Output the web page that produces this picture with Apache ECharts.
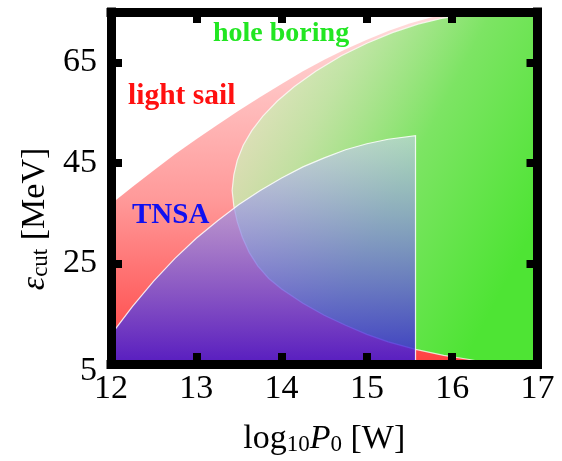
<!DOCTYPE html>
<html><head><meta charset="utf-8">
<script src="https://cdn.jsdelivr.net/npm/echarts@6/dist/echarts.min.js"></script>
<style>html,body{margin:0;padding:0;background:#fff}#c{width:562px;height:461px}</style>
</head><body><div id="c"></div>
<script>
// ---- data ----
const xTicks = [12, 13, 14, 15, 16, 17];
const yTicks = [5, 25, 45, 65];
const xRange = [12, 17];
const yRange = [5, 75];

// light sail: upper boundary (filled down to the axis)
const lightSailX = [12, 12.25, 12.5, 12.75, 13, 13.25, 13.5, 13.75, 14, 14.25, 14.5, 14.75, 15, 15.25, 15.5, 15.75, 16, 16.5, 17];
const lightSailY = [36.8, 40.2, 43.5, 46.7, 49.7, 52.6, 55.4, 58.1, 60.7, 63.2, 65.5, 67.6, 69.5, 71.2, 72.7, 73.9, 74.9, 76.8, 78.5];

// TNSA: upper boundary, then vertical cut-off
const tnsaX = [12, 12.25, 12.5, 12.75, 13, 13.25, 13.5, 13.75, 14, 14.25, 14.5, 14.75, 15, 15.25, 15.57];
const tnsaY = [10.8, 16.4, 21.5, 26.0, 30.0, 33.5, 36.7, 39.5, 42.0, 44.2, 46.0, 47.6, 48.8, 49.7, 50.4];
const tnsaCutX = 15.57;

// hole boring: boundary arc from the bottom edge round the left to the top edge
const holeBoringX = [16.5, 16.2, 15.9, 15.57, 15.25, 15.0, 14.75, 14.5, 14.25, 14.0, 13.85, 13.72, 13.62, 13.54, 13.48, 13.44, 13.42,
                     13.44, 13.48, 13.55, 13.65, 13.78, 13.95, 14.15, 14.4, 14.7, 15.0, 15.3, 15.6, 15.9, 16.2, 16.45];
const holeBoringY = [5.0, 5.9, 6.7, 7.9, 9.4, 10.9, 12.7, 14.7, 17.1, 19.9, 22.0, 24.5, 27.2, 30.2, 33.3, 36.4, 39.5,
                     42.6, 45.5, 48.5, 51.4, 54.3, 57.3, 60.2, 63.2, 66.3, 68.8, 70.9, 72.6, 73.8, 74.7, 75.2];

const labelTexts = { hole: 'hole boring', sail: 'light sail', tnsa: 'TNSA' };

// ---- build polygons (data space) ----
const zip = (xs, ys) => xs.map((x, i) => [x, ys[i]]);
const redPoly = [[xRange[0], yRange[0]]].concat(zip(lightSailX, lightSailY), [[xRange[1], yRange[0]]]);
const bluePoly = [[xRange[0], yRange[0]]].concat(zip(tnsaX, tnsaY), [[tnsaCutX, yRange[0]]]);
const greenPoly = zip(holeBoringX, holeBoringY).concat([[xRange[1], yRange[1] + 1], [xRange[1], yRange[0]]]);

const G = echarts.graphic.LinearGradient;
function polySeries(name, pts, style, z) {
  return {
    type: 'custom', name: name, coordinateSystem: 'cartesian2d', clip: true, z: z,
    data: pts, silent: true,
    renderItem: function (params, api) {
      if (params.dataIndex !== 0) return null;
      const points = pts.map(p => api.coord(p));
      return { type: 'polygon', shape: { points: points }, style: style };
    }
  };
}

const serif = '"Liberation Serif", "DejaVu Serif", serif';
const frameLine = { show: true, onZero: false, lineStyle: { color: '#000', width: 9, cap: 'square' } };
const tick = { show: true, inside: true, length: 11, lineStyle: { color: '#000', width: 8 } };

const chart = echarts.init(document.getElementById('c'), null, { renderer: 'canvas' });
chart.setOption({
  animation: false,
  backgroundColor: '#fff',
  grid: { left: 111, right: 24.5, top: 12, bottom: 93, show: false },
  xAxis: [
    { type: 'value', min: xRange[0], max: xRange[1], interval: 1, position: 'bottom', z: 10,
      axisLine: frameLine, axisTick: tick, splitLine: { show: false },
      axisLabel: { margin: 8, fontFamily: serif, fontSize: 34, color: '#000' },
      name: '{n|log}{s|10}{i|P}{s|0}{n| [W]}', nameLocation: 'middle', nameGap: 52,
      nameTextStyle: { rich: {
        n: { fontFamily: serif, fontSize: 34, color: '#000', verticalAlign: 'bottom', lineHeight: 40 },
        i: { fontFamily: serif, fontSize: 34, fontStyle: 'italic', color: '#000', verticalAlign: 'bottom', lineHeight: 40 },
        s: { fontFamily: serif, fontSize: 23, color: '#000', verticalAlign: 'bottom', lineHeight: 34 }
      } } },
    { type: 'value', min: xRange[0], max: xRange[1], interval: 1, position: 'top', z: 10,
      axisLine: frameLine, axisTick: tick, splitLine: { show: false }, axisLabel: { show: false } }
  ],
  yAxis: [
    { type: 'value', min: yRange[0], max: yRange[1], position: 'left', z: 10,
      axisLine: frameLine, axisTick: Object.assign({ customValues: yTicks }, tick), splitLine: { show: false },
      axisLabel: { customValues: yTicks, margin: 14, fontFamily: serif, fontSize: 34, color: '#000',
        formatter: v => (v === yTicks[0] ? '{low|' + v + '}' : String(v)),
        rich: { low: { fontFamily: serif, fontSize: 34, color: '#000', padding: [14, 0, 0, 0] } } },
      name: '{e|ε}{s|cut}{n| [MeV]}', nameLocation: 'middle', nameGap: 58, nameRotate: 90,
      nameTextStyle: { padding: [0, 62, 0, 0], rich: {
        e: { fontFamily: serif, fontSize: 34, fontStyle: 'italic', color: '#000', verticalAlign: 'bottom', lineHeight: 40 },
        n: { fontFamily: serif, fontSize: 34, color: '#000', verticalAlign: 'bottom', lineHeight: 40 },
        s: { fontFamily: serif, fontSize: 23, color: '#000', verticalAlign: 'bottom', lineHeight: 34 }
      } } },
    { type: 'value', min: yRange[0], max: yRange[1], position: 'right', z: 10,
      axisLine: frameLine, axisTick: Object.assign({ customValues: yTicks }, tick), splitLine: { show: false },
      axisLabel: { show: false } }
  ],
  series: [
    polySeries('light sail', redPoly, {
      fill: new G(0, 1, 0, 0, [
        { offset: 0, color: '#ff4040' }, { offset: 0.45, color: '#ff9a9a' }, { offset: 1, color: '#ffe4e4' }
      ]), lineWidth: 0 }, 2),
    polySeries('hole boring', greenPoly, {
      fill: new G(0, 0.15, 1, 0.6, [
        { offset: 0, color: 'rgba(232,238,205,0.72)' }, { offset: 0.3, color: 'rgba(185,232,160,0.88)' },
        { offset: 0.6, color: 'rgba(125,228,100,1)' }, { offset: 1, color: 'rgba(78,228,52,1)' }
      ]), stroke: 'rgba(255,255,255,0.75)', lineWidth: 1.2 }, 3),
    polySeries('TNSA', bluePoly, {
      fill: new G(0, 1, 0, 0, [
        { offset: 0, color: 'rgba(50,20,220,0.82)' }, { offset: 1, color: 'rgba(200,210,240,0.6)' }
      ]), stroke: 'rgba(255,255,255,0.85)', lineWidth: 1.2 }, 4)
  ],
  graphic: [
    { type: 'text', left: 213, top: 20, z: 20, style: { text: labelTexts.hole, font: 'bold 28px ' + serif, fill: '#22e622' } },
    { type: 'text', left: 128, top: 81, z: 20, style: { text: labelTexts.sail, font: 'bold 29.5px ' + serif, fill: '#ff1010' } },
    { type: 'text', left: 132, top: 201, z: 20, style: { text: labelTexts.tnsa, font: 'bold 29px ' + serif, fill: '#1010f0' } }
  ]
});
</script>
</body></html>
